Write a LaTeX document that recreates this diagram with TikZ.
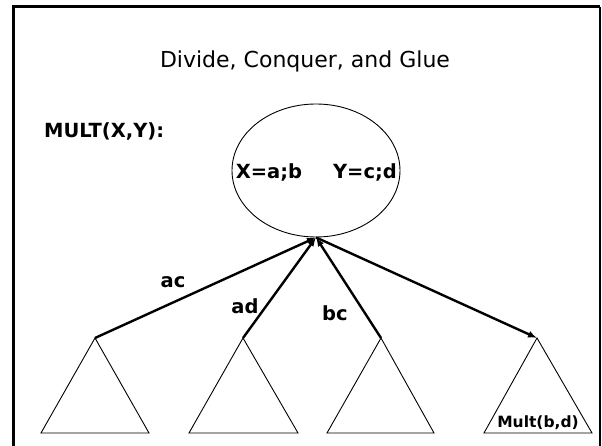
\documentclass[tikz,border=0pt]{standalone}
\usepackage{fontspec}
\setmainfont{DejaVu Sans}
\usetikzlibrary{arrows.meta,shapes.geometric}
\begin{document}
\begin{tikzpicture}[x=1pt,y=-1pt,
  tri/.style={draw=black,line width=0.9pt},
  edge/.style={draw=black,line width=2.4pt},
  tip/.style={-{Latex[length=9pt,width=7pt]}},
  lbl/.style={font=\fontsize{19.5}{22}\selectfont\bfseries,inner sep=0pt},
]
\useasboundingbox (0,0) rectangle (602,446);
% frame
\draw[line width=3pt] (13,460) -- (13,7) -- (600,7);
\draw[line width=1.6pt] (600,7) -- (600,460);
% title
\node[font=\fontsize{22}{26}\selectfont,inner sep=0pt] (title) at (305,61) {Divide, Conquer, and Glue};
\node[lbl,anchor=west] (mult) at (44,131) {MULT(X,Y):};
% root ellipse
\node[draw=black,line width=0.9pt,ellipse,minimum width=168pt,minimum height=133pt,inner sep=0pt] (root) at (316,170.5) {};
\node[lbl] (xab) at (269,172) {X=a;b};
\node[lbl] (ycd) at (365,172) {Y=c;d};
% triangle apexes
\coordinate (t1) at (95,338);
\coordinate (t2) at (243,338);
\coordinate (t3) at (381,338);
\coordinate (t4) at (537,338);
\draw[tri] (41,433) -- (t1) -- (149,433) -- cycle;
\draw[tri] (189,433) -- (t2) -- (298,433) -- cycle;
\draw[tri] (327,433) -- (t3) -- (434,433) -- cycle;
\draw[tri] (484,433) -- (t4) -- (592,433) -- cycle;
% edges
\draw[edge,tip] (t1) -- (root.south);
\draw[edge,tip] (t2) -- (root.south);
\draw[edge,tip] (t3) -- (root.south);
\draw[edge,tip] (root.south) -- (t4);
% labels
\node[lbl] (lac) at (173,282) {ac};
\node[lbl] (lad) at (245,306) {ad};
\node[lbl] (lbc) at (335,313) {bc};
\node[font=\fontsize{15.5}{18}\selectfont\bfseries,inner sep=0pt] (lmult) at (538,423) {Mult(b,d)};
\end{tikzpicture}
\end{document}
